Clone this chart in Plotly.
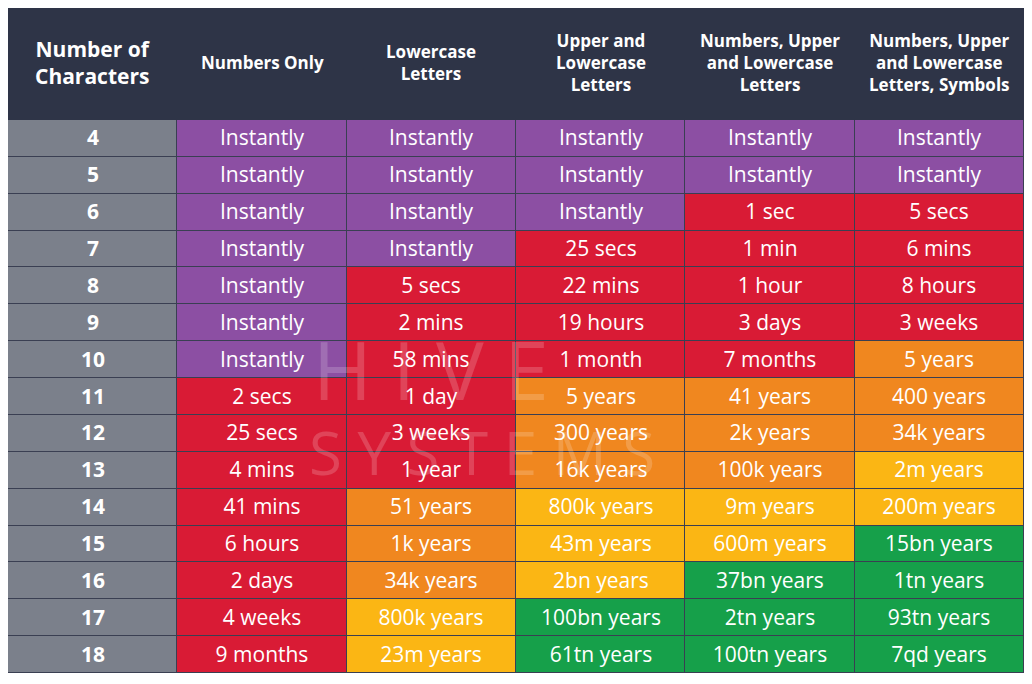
import plotly.graph_objects as go

headers = ["<b>Number of<br>Characters</b>", "<b>Numbers Only</b>", "<b>Lowercase<br>Letters</b>",
           "<b>Upper and<br>Lowercase<br>Letters</b>", "<b>Numbers, Upper<br>and Lowercase<br>Letters</b>",
           "<b>Numbers, Upper<br>and Lowercase<br>Letters, Symbols</b>"]
chars = ["4","5","6","7","8","9","10","11","12","13","14","15","16","17","18"]
numbers_only = ["Instantly"]*7 + ["2 secs","25 secs","4 mins","41 mins","6 hours","2 days","4 weeks","9 months"]
lower = ["Instantly"]*4 + ["5 secs","2 mins","58 mins","1 day","3 weeks","1 year","51 years","1k years","34k years","800k years","23m years"]
upper_lower = ["Instantly"]*3 + ["25 secs","22 mins","19 hours","1 month","5 years","300 years","16k years","800k years","43m years","2bn years","100bn years","61tn years"]
num_upper_lower = ["Instantly"]*2 + ["1 sec","1 min","1 hour","3 days","7 months","41 years","2k years","100k years","9m years","600m years","37bn years","2tn years","100tn years"]
all_chars = ["Instantly"]*2 + ["5 secs","6 mins","8 hours","3 weeks","5 years","400 years","34k years","2m years","200m years","15bn years","1tn years","93tn years","7qd years"]

# level codes: C first column, P purple, R red, O orange, Y yellow, G green
lv_chars = "CCCCCCCCCCCCCCC"
lv_numbers = "PPPPPPPRRRRRRRR"
lv_lower = "PPPPRRRRRROOOYY"
lv_upper = "PPPRRRROOOYYYGG"
lv_nul = "PPRRRRROOOYYGGG"
lv_all = "PPRRRROOOYYGGGG"

order = "CPROYG"
colors = ["#7b808b", "#8c4fa3", "#d91b35", "#f0871f", "#fbb614", "#16a04a"]
scale = []
for i, c in enumerate(colors):
    scale += [[i / 6, c], [(i + 1) / 6, c]]

cols = [["<b>%s</b>" % c for c in chars], numbers_only, lower, upper_lower, num_upper_lower, all_chars]
levels = [lv_chars, lv_numbers, lv_lower, lv_upper, lv_nul, lv_all]
xs = list(range(6))
z = [[order.index(levels[j][i]) + 0.5 for j in xs] for i in range(len(chars))]
text = [[cols[j][i] for j in xs] for i in range(len(chars))]

H = 553
fig = go.Figure(go.Heatmap(
    x=xs, y=chars, z=z, text=text, texttemplate="%{text}", zmin=0, zmax=6,
    colorscale=scale, showscale=False, xgap=1, ygap=1, hoverinfo="skip",
    textfont=dict(family="Open Sans", size=21, color="white"),
))
fig.add_shape(type="rect", xref="paper", yref="paper", x0=0, x1=1, y0=1, y1=1 + 112 / H,
              fillcolor="#2e3447", line_width=0, layer="below")
for j, h in enumerate(headers):
    fig.add_annotation(x=j, y=1 + 58 / H, xref="x", yref="paper", yanchor="middle", text=h,
                       showarrow=False, align="center",
                       font=dict(family="Open Sans", size=21 if j == 0 else 17, color="white"))
fig.add_annotation(x=2.0, y=0.55, xref="x", yref="paper", text="H I V E", showarrow=False,
                   font=dict(family="Open Sans", size=80, color="rgba(255,255,255,0.18)"))
fig.add_annotation(x=2.3, y=0.40, xref="x", yref="paper", text="S Y S T E M S", showarrow=False,
                   font=dict(family="Open Sans", size=60, color="rgba(255,255,255,0.18)"))
fig.update_xaxes(visible=False, range=[-0.5, 5.5])
fig.update_yaxes(visible=False, autorange="reversed")
fig.update_layout(width=1016, height=668, margin=dict(l=0, r=0, t=112, b=3),
                  paper_bgcolor="white", plot_bgcolor="#3a3f52")
fig.write_html("out.html")
